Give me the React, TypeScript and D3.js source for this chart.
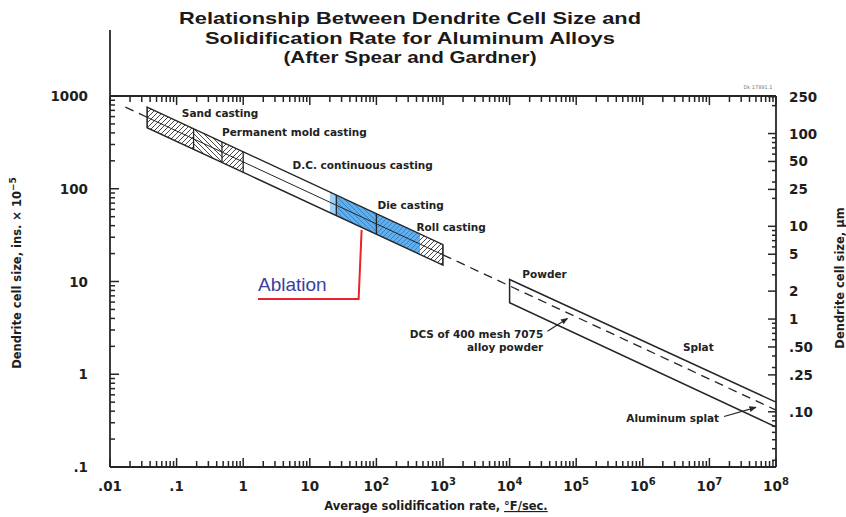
import React, { useRef, useEffect } from "react";
import * as d3 from "d3";

// axis ticks
const rateTicks = [0.01, 0.1, 1, 10, 1e2, 1e3, 1e4, 1e5, 1e6, 1e7, 1e8];
const rateTickLabels = [".01", ".1", "1", "10", "10^2", "10^3", "10^4", "10^5", "10^6", "10^7", "10^8"];
const sizeTicks = [0.1, 1, 10, 100, 1000];
const sizeTickLabels = [".1", "1", "10", "100", "1000"];
const micronTicks = [250, 100, 50, 25, 10, 5, 2, 1, 0.5, 0.25, 0.1];
const micronTickLabels = ["250", "100", "50", "25", "10", "5", "2", "1", ".50", ".25", ".10"];

// band edges: [rate °F/sec, cell size in. x 1e-5]
const mainUpper = [[0.036, 760], [1000, 25]];
const mainLower = [[0.036, 455], [1000, 15]];
const powderUpper = [[1e4, 10.5], [1e8, 0.5]];
const powderLower = [[1e4, 5.9], [1e8, 0.27]];
const trendLine = [[0.017, 760], [0.036, 590], [1000, 19.4], [1e8, 0.41]];

// casting process sections along the main band
const sectionFrom = [0.036, 0.18, 0.48, 25, 100];
const sectionTo = [0.18, 0.48, 1, 100, 1000];
const ablationRange = [20, 450];

// annotation texts and where they sit (rate, size)
const bandLabels = ["Sand casting", "Permanent mold casting", "D.C. continuous casting", "Die casting", "Roll casting", "Powder", "Splat"];
const bandLabelAt = [[0.12, 594], [0.48, 372], [5.5, 164], [104, 61], [400, 35], [15500, 11], [4e6, 1.8]];

const titleLines = ["Relationship Between Dendrite Cell Size and", "Solidification Rate for Aluminum Alloys", "(After Spear and Gardner)"];

const W = 846;
const H = 517;
const plot = { left: 110, right: 776, top: 96, bottom: 467 };
const boldFont = "'DejaVu Sans', sans-serif";

export default function App() {
  const svgRef = useRef<SVGSVGElement>(null);

  useEffect(() => {
    const svg = d3.select(svgRef.current);
    svg.selectAll("*").remove();

    const x = d3.scaleLog().domain([0.01, 1e8]).range([plot.left, plot.right]);
    const y = d3.scaleLog().domain([0.1, 1000]).range([plot.bottom, plot.top]);
    const yUm = d3.scaleLog().domain([0.0254, 254]).range([plot.bottom, plot.top]);

    const ink = "#262626";
    const defs = svg.append("defs");

    // hatch patterns
    const hatch = (id: string, d: string) =>
      defs
        .append("pattern")
        .attr("id", id)
        .attr("patternUnits", "userSpaceOnUse")
        .attr("width", 5)
        .attr("height", 5)
        .append("path")
        .attr("d", d)
        .attr("stroke", "#333")
        .attr("stroke-width", 0.9);
    hatch("hatchF", "M-1,1 L1,-1 M0,5 L5,0 M4,6 L6,4");
    hatch("hatchB", "M-1,4 L1,6 M0,0 L5,5 M4,-1 L6,1");

    const bandPoly = (upper: number[][], lower: number[][]) =>
      [...upper, ...lower.slice().reverse()].map((p) => [x(p[0]), y(p[1])] as [number, number]);

    const mainPoly = bandPoly(mainUpper, mainLower);
    defs
      .append("clipPath")
      .attr("id", "mainClip")
      .append("polygon")
      .attr("points", mainPoly.map((p) => p.join(",")).join(" "));

    defs
      .append("marker")
      .attr("id", "arrow")
      .attr("viewBox", "0 0 10 10")
      .attr("refX", 9)
      .attr("refY", 5)
      .attr("markerWidth", 6)
      .attr("markerHeight", 6)
      .attr("orient", "auto")
      .append("path")
      .attr("d", "M0,1 L10,5 L0,9 z")
      .attr("fill", ink);

    // title
    svg
      .append("g")
      .selectAll("text")
      .data(titleLines)
      .join("text")
      .attr("x", 410)
      .attr("y", (d, i) => 24 + i * 19.5)
      .attr("text-anchor", "middle")
      .attr("font-family", "'Liberation Sans', Arial, sans-serif")
      .attr("font-weight", "bold")
      .attr("font-size", 17)
      .attr("textLength", (d, i) => [462, 410, 253][i])
      .attr("lengthAdjust", "spacingAndGlyphs")
      .attr("fill", "#1a1a1a")
      .text((d) => d);

    // main band: hatching, ablation overlay, separators
    const band = svg.append("g").attr("clip-path", "url(#mainClip)");
    band
      .selectAll("rect.hatch")
      .data(sectionFrom)
      .join("rect")
      .attr("class", "hatch")
      .attr("x", (d) => x(d))
      .attr("width", (d, i) => x(sectionTo[i]) - x(d))
      .attr("y", plot.top)
      .attr("height", plot.bottom - plot.top)
      .attr("fill", (d, i) => (i % 2 === 0 ? "url(#hatchF)" : "url(#hatchB)"));

    band
      .append("rect")
      .attr("x", x(ablationRange[0]))
      .attr("width", x(25) - x(ablationRange[0]))
      .attr("y", plot.top)
      .attr("height", plot.bottom - plot.top)
      .attr("fill", "#8cc4f2")
      .attr("opacity", 0.8);
    band
      .append("rect")
      .attr("x", x(25))
      .attr("width", x(ablationRange[1]) - x(25))
      .attr("y", plot.top)
      .attr("height", plot.bottom - plot.top)
      .attr("fill", "#3597ea")
      .attr("opacity", 0.78);

    const seps = Array.from(new Set([...sectionFrom, ...sectionTo]));
    band
      .selectAll("line.sep")
      .data(seps)
      .join("line")
      .attr("class", "sep")
      .attr("x1", (d) => x(d))
      .attr("x2", (d) => x(d))
      .attr("y1", plot.top)
      .attr("y2", plot.bottom)
      .attr("stroke", ink)
      .attr("stroke-width", 1.3);

    // band outlines
    svg
      .append("polygon")
      .attr("points", mainPoly.map((p) => p.join(",")).join(" "))
      .attr("fill", "none")
      .attr("stroke", ink)
      .attr("stroke-width", 1.4);

    const line = d3.line<number[]>().x((p) => x(p[0])).y((p) => y(p[1]));
    svg
      .append("path")
      .attr("d", line([powderUpper[1], powderUpper[0], powderLower[0], powderLower[1]]))
      .attr("fill", "none")
      .attr("stroke", ink)
      .attr("stroke-width", 1.5);

    // trend line: solid inside the casting band, dashed elsewhere
    for (let i = 0; i < trendLine.length - 1; i++) {
      const a = trendLine[i];
      const b = trendLine[i + 1];
      const inside = a[0] >= mainUpper[0][0] && b[0] <= mainUpper[1][0];
      svg
        .append("path")
        .attr("d", line([a, b]))
        .attr("fill", "none")
        .attr("stroke", ink)
        .attr("stroke-width", inside ? 1 : 1.3)
        .attr("stroke-dasharray", inside ? null : "9,6");
    }

    // axes frame
    const frame = svg.append("g").attr("stroke", ink).attr("stroke-width", 1.8);
    frame.append("line").attr("x1", plot.left).attr("x2", plot.right).attr("y1", plot.top).attr("y2", plot.top);
    frame.append("line").attr("x1", plot.left).attr("x2", plot.right).attr("y1", plot.bottom).attr("y2", plot.bottom);
    frame.append("line").attr("x1", plot.left).attr("x2", plot.left).attr("y1", 30).attr("y2", plot.bottom);
    frame.append("line").attr("x1", plot.right).attr("x2", plot.right).attr("y1", plot.top).attr("y2", plot.bottom);

    // log minor ticks
    const minors = (lo: number, hi: number) => {
      const out: number[] = [];
      for (let k = Math.floor(Math.log10(lo)); k <= Math.ceil(Math.log10(hi)); k++) {
        for (let m = 2; m <= 9; m++) {
          const v = m * Math.pow(10, k);
          if (v > lo && v < hi) out.push(v);
        }
      }
      return out;
    };
    const tickG = svg.append("g").attr("stroke", ink).attr("stroke-width", 1.5);
    const rateMinor = minors(0.01, 1e8);
    const rateTickData = [...rateTicks.map((v) => [v, 9]), ...rateMinor.map((v) => [v, 6])];
    [plot.bottom, plot.top].forEach((y0) => {
      const dir = y0 === plot.bottom ? -1 : 1;
      tickG
        .append("g")
        .selectAll("line")
        .data(rateTickData)
        .join("line")
        .attr("x1", (d) => x(d[0]))
        .attr("x2", (d) => x(d[0]))
        .attr("y1", y0)
        .attr("y2", (d) => y0 + dir * d[1]);
    });
    tickG
      .append("g")
      .selectAll("line")
      .data([...sizeTicks.map((v) => [v, 9]), ...minors(0.1, 1000).map((v) => [v, 5])])
      .join("line")
      .attr("x1", plot.left)
      .attr("x2", (d) => plot.left + d[1])
      .attr("y1", (d) => y(d[0]))
      .attr("y2", (d) => y(d[0]));
    const umMinor = minors(0.0254, 254).filter((v) => !micronTicks.some((t) => Math.abs(t - v) < 1e-9));
    tickG
      .append("g")
      .selectAll("line")
      .data([...micronTicks.map((v) => [v, 8]), ...umMinor.map((v) => [v, 4])])
      .join("line")
      .attr("x1", plot.right)
      .attr("x2", (d) => plot.right - d[1])
      .attr("y1", (d) => yUm(d[0]))
      .attr("y2", (d) => yUm(d[0]));

    // tick labels
    const labels = svg
      .append("g")
      .attr("font-family", boldFont)
      .attr("font-weight", "bold")
      .attr("font-size", 13.5)
      .attr("fill", "#1e1e1e");
    labels
      .selectAll("text.xl")
      .data(rateTicks)
      .join("text")
      .attr("class", "xl")
      .attr("x", (d) => x(d))
      .attr("y", 491)
      .attr("text-anchor", "middle")
      .each(function (d, i) {
        const [base, exp] = rateTickLabels[i].split("^");
        const t = d3.select(this);
        t.append("tspan").text(base);
        if (exp) t.append("tspan").attr("dy", -6).attr("font-size", 10).text(exp);
      });
    labels
      .selectAll("text.yl")
      .data(sizeTicks)
      .join("text")
      .attr("class", "yl")
      .attr("x", 88)
      .attr("y", (d) => y(d) + 5)
      .attr("text-anchor", "end")
      .text((d, i) => sizeTickLabels[i]);
    labels
      .selectAll("text.rl")
      .data(micronTicks)
      .join("text")
      .attr("class", "rl")
      .attr("x", 789)
      .attr("y", (d) => yUm(d) + 5)
      .text((d, i) => micronTickLabels[i]);

    // axis titles
    const titles = svg
      .append("g")
      .attr("font-family", boldFont)
      .attr("font-weight", "bold")
      .attr("font-size", 11.5)
      .attr("fill", "#1e1e1e");
    const xt = titles.append("text").attr("x", 436).attr("y", 510).attr("text-anchor", "middle");
    xt.append("tspan").text("Average solidification rate, ");
    xt.append("tspan").attr("text-decoration", "underline").text("°F/sec.");
    const lt = titles
      .append("text")
      .attr("transform", "translate(21,273) rotate(-90)")
      .attr("text-anchor", "middle");
    lt.append("tspan").text("Dendrite cell size, ins. × 10");
    lt.append("tspan").attr("dy", -5).attr("font-size", 9).text("−5");
    titles
      .append("text")
      .attr("transform", "translate(844,278) rotate(-90)")
      .attr("text-anchor", "middle")
      .text("Dendrite cell size, μm");
    svg
      .append("text")
      .attr("x", 758)
      .attr("y", 89)
      .attr("text-anchor", "middle")
      .attr("font-family", boldFont)
      .attr("font-size", 5)
      .attr("fill", "#777")
      .text("Dk 17891.1");

    // band annotations
    const notes = svg
      .append("g")
      .attr("font-family", boldFont)
      .attr("font-weight", "bold")
      .attr("font-size", 10.5)
      .attr("fill", "#222");
    notes
      .selectAll("text.band")
      .data(bandLabels)
      .join("text")
      .attr("class", "band")
      .attr("x", (d, i) => x(bandLabelAt[i][0]))
      .attr("y", (d, i) => y(bandLabelAt[i][1]))
      .text((d) => d);

    const dcs = notes.append("text").attr("text-anchor", "end");
    dcs.append("tspan").attr("x", x(32000)).attr("y", y(2.44)).text("DCS of 400 mesh 7075");
    dcs.append("tspan").attr("x", x(32000)).attr("y", y(1.77)).text("alloy powder");
    svg
      .append("line")
      .attr("x1", x(37000))
      .attr("y1", y(2.9))
      .attr("x2", x(74000))
      .attr("y2", y(4.0))
      .attr("stroke", ink)
      .attr("stroke-width", 1.2)
      .attr("marker-end", "url(#arrow)");

    notes.append("text").attr("x", x(1.4e7)).attr("y", y(0.305)).attr("text-anchor", "end").text("Aluminum splat");
    svg
      .append("line")
      .attr("x1", x(1.66e7))
      .attr("y1", y(0.35))
      .attr("x2", x(5e7))
      .attr("y2", y(0.44))
      .attr("stroke", ink)
      .attr("stroke-width", 1.2)
      .attr("marker-end", "url(#arrow)");

    // ablation callout
    const target = [x(60), y(36)];
    svg
      .append("path")
      .attr("d", `M258,299 L${target[0] - 3},299 L${target[0]},${target[1]}`)
      .attr("fill", "none")
      .attr("stroke", "#e8232d")
      .attr("stroke-width", 2);
    svg
      .append("text")
      .attr("x", 258)
      .attr("y", 291)
      .attr("font-family", "'Liberation Sans', Arial, sans-serif")
      .attr("font-size", 19)
      .attr("fill", "#3b3f9e")
      .text("Ablation");
  }, []);

  return (
    <svg
      ref={svgRef}
      width={W}
      height={H}
      style={{ position: "absolute", left: 0, top: 0, background: "#fff" }}
    />
  );
}
